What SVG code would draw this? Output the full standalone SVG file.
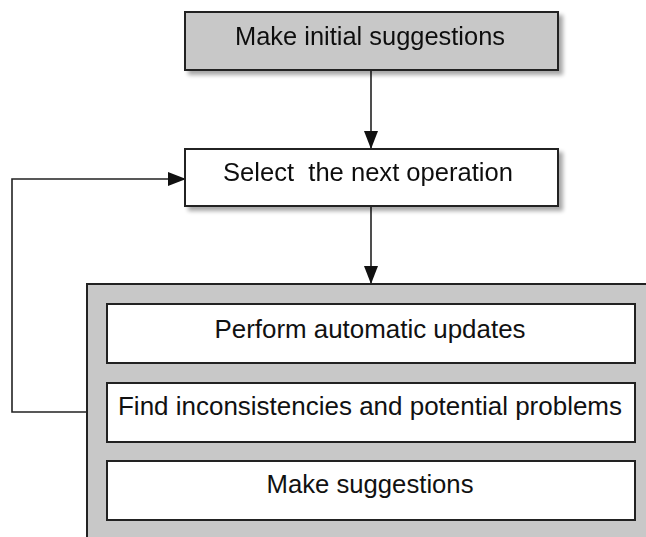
<svg xmlns="http://www.w3.org/2000/svg" width="646" height="537" viewBox="0 0 646 537">
<defs>
<filter id="sh" x="-10%" y="-20%" width="130%" height="160%">
<feGaussianBlur in="SourceAlpha" stdDeviation="2"/>
<feOffset dx="4" dy="4" result="b"/>
<feComponentTransfer><feFuncA type="linear" slope="0.35"/></feComponentTransfer>
<feMerge><feMergeNode/><feMergeNode in="SourceGraphic"/></feMerge>
</filter>
<marker id="ah" markerWidth="18" markerHeight="14" refX="17" refY="7" orient="auto" markerUnits="userSpaceOnUse">
<path d="M0,0 L18,7 L0,14 Z" fill="#111"/>
</marker>
</defs>
<style>
.box{stroke:#222;stroke-width:2}
.gray{fill:#c8c8c8}
.white{fill:#fff}
.t{font-family:"Liberation Sans",Arial,sans-serif;font-size:25px;fill:#111;text-anchor:middle}
.c{fill:none;stroke:#222;stroke-width:1.6}
</style>
<rect width="646" height="537" fill="#fff"/>
<g id="connectors">
<path class="c" d="M371,70 V148" marker-end="url(#ah)"/>
<path class="c" d="M371,207 V283" marker-end="url(#ah)"/>
<path class="c" d="M87,412 H12 V179 H185" marker-end="url(#ah)"/>
</g>
<g id="n1" filter="url(#sh)">
<rect class="box gray" x="185" y="12" width="373" height="58"/>
<text class="t" x="370" y="45" textLength="270" lengthAdjust="spacingAndGlyphs">Make initial suggestions</text>
</g>
<g id="n2" filter="url(#sh)">
<rect class="box white" x="185" y="149" width="373" height="57"/>
<text class="t" x="368" y="181" textLength="290" lengthAdjust="spacingAndGlyphs" xml:space="preserve">Select  the next operation</text>
</g>
<g id="group">
<rect class="box gray" x="87" y="284" width="600" height="300"/>
<g id="n3">
<rect class="box white" x="107" y="304" width="528" height="59"/>
<text class="t" x="370" y="338" textLength="311" lengthAdjust="spacingAndGlyphs">Perform automatic updates</text>
</g>
<g id="n4">
<rect class="box white" x="107" y="383" width="528" height="59"/>
<text class="t" x="370" y="415" textLength="504" lengthAdjust="spacingAndGlyphs">Find inconsistencies and potential problems</text>
</g>
<g id="n5">
<rect class="box white" x="107" y="461" width="528" height="59"/>
<text class="t" x="370" y="493" textLength="207" lengthAdjust="spacingAndGlyphs">Make suggestions</text>
</g>
</g>
</svg>
